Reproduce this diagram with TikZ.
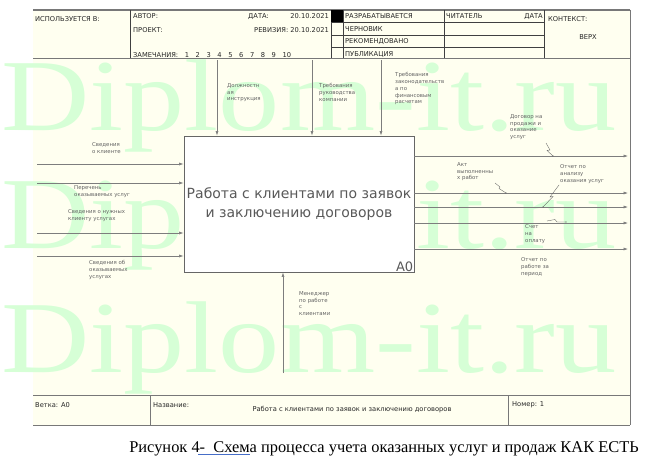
\documentclass[tikz,border=0pt]{standalone}
\usepackage{fontspec}
\setmainfont{Liberation Serif}
\newfontfamily\diagfont{DejaVu Sans}
\usetikzlibrary{positioning,arrows.meta,calc}

\definecolor{paper}{RGB}{255,255,240}
\definecolor{wmark}{RGB}{214,255,214}
\definecolor{frameline}{RGB}{120,120,120}
\definecolor{flowline}{RGB}{125,125,125}
\definecolor{labeltext}{RGB}{100,100,100}
\definecolor{spellblue}{RGB}{70,110,200}

\newcommand\hdrfont{\diagfont\fontsize{6.7}{7.5}\selectfont}
\newcommand\lblfont{\diagfont\fontsize{5.4}{6.9}\selectfont}
\newcommand\notegap{\hspace{6.6pt}}

\begin{document}
\begin{tikzpicture}[x=1pt, y=-1pt,
    hdr/.style = {font=\hdrfont, inner sep=0pt, text=black!85},
    lbl/.style = {font=\lblfont, text=labeltext, align=left, inner sep=0pt, anchor=north west},
    flow/.style = {draw=flowline, line width=0.6pt, -{Latex[length=4.5pt,width=3pt]}},
    squig/.style = {draw=labeltext, line width=0.35pt},
    funcbox/.style = {draw=black!60, fill=white, line width=0.8pt,
      minimum width=230pt, minimum height=136pt, align=center, inner sep=0pt,
      font=\diagfont\fontsize{14}{19.5}\selectfont, text=black!65}]
  \useasboundingbox (0,0) rectangle (663,460);
  \fill[white] (0,0) rectangle (663,460);

  % form background
  \fill[paper] (33,10) rectangle (630,425);

  % watermark
  \foreach \wy in {130,248,372}
    \node[anchor=base west, inner sep=0pt, text=wmark, xscale=1.2,
      font=\fontsize{102}{102}\selectfont] at (1,\wy) {Diplom-it.ru};

  % header
  \draw[frameline, line width=1.2pt] (33,10) -- (630,10);
  \draw[frameline, line width=0.8pt] (33,58) -- (630,58);
  \foreach \hx in {130,331,343,444,544}
    \draw[black!75, line width=0.5pt] (\hx,10) -- (\hx,58);
  \foreach \hy in {22.5,35,47.5}
    \draw[black!75, line width=0.5pt] (331,\hy) -- (544,\hy);
  \fill[black] (331,10) rectangle (343,22.5);

  \node[hdr, anchor=west] (usedin) at (35,19) {ИСПОЛЬЗУЕТСЯ В:};
  \node[hdr, anchor=west] (author) at (133,16.5) {АВТОР:};
  \node[hdr, anchor=west] (project) at (133,30.5) {ПРОЕКТ:};
  \node[hdr, anchor=west] (date) at (248,16.5) {ДАТА:};
  \node[hdr, anchor=east] (dateval) at (329,16.5) {20.10.2021};
  \node[hdr, anchor=east] (rev) at (329,30.5) {РЕВИЗИЯ: 20.10.2021};
  \node[hdr, anchor=base west] (notes) at (133,57.5)
    {ЗАМЕЧАНИЯ:\notegap 1\notegap 2\notegap 3\notegap 4\notegap 5\notegap 6\notegap 7\notegap 8\notegap 9\notegap 10};
  \node[hdr, anchor=west] (working) at (345,16.5) {РАЗРАБАТЫВАЕТСЯ};
  \node[hdr, anchor=west] (draft) at (345,29) {ЧЕРНОВИК};
  \node[hdr, anchor=west] (recom) at (345,41.5) {РЕКОМЕНДОВАНО};
  \node[hdr, anchor=west] (publ) at (345,54.5) {ПУБЛИКАЦИЯ};
  \node[hdr, anchor=west] (reader) at (446,16.5) {ЧИТАТЕЛЬ};
  \node[hdr, anchor=east] (rdate) at (543,16.5) {ДАТА};
  \node[hdr, anchor=west] (context) at (548,19) {КОНТЕКСТ:};
  \node[hdr] (top) at (588,37) {ВЕРХ};

  % right border and footer
  \draw[frameline, line width=0.8pt] (630,10) -- (630,425);
  \draw[frameline, line width=0.8pt] (33,395) -- (630,395);
  \draw[frameline, line width=1pt] (33,425) -- (630,425);
  \foreach \fx in {150,508}
    \draw[frameline, line width=0.6pt] (\fx,395) -- (\fx,425);
  \node[hdr, anchor=west] (node) at (35,405) {Ветка: А0};
  \node[hdr, anchor=west] (title) at (153,405) {Название:};
  \node[hdr] (titletext) at (352,410) {Работа с клиентами по заявок и заключению договоров};
  \node[hdr, anchor=west] (number) at (512,405) {Номер: 1};

  % activity
  \node[funcbox] (A0) at (299,204) {Работа с клиентами по заявок\\и заключению договоров};
  \node[anchor=south east, inner sep=1pt, font=\diagfont\fontsize{13}{14}\selectfont,
    text=black!65] (A0num) at (A0.south east) {A0};

  % controls
  \coordinate (c1) at (217,60);
  \coordinate (c2) at (312,60);
  \coordinate (c3) at (381,60);
  \foreach \c in {c1,c2,c3}
    \draw[flow] (\c) -- (\c |- A0.north);
  \node[lbl] (c1lbl) at (227,83) {Должностн\\ая\\инструкция};
  \node[lbl] (c2lbl) at (319,83) {Требования\\руководства\\компании};
  \node[lbl] (c3lbl) at (395,72) {Требования\\законодательств\\а по\\финансовым\\расчетам};

  % inputs
  \coordinate (i1) at (37,164);
  \coordinate (i2) at (37,183);
  \coordinate (i3) at (37,233);
  \coordinate (i4) at (37,256);
  \foreach \i in {i1,i2,i3,i4}
    \draw[flow] (\i) -- (\i -| A0.west);
  \node[lbl] (i1lbl) at (92,142) {Сведения\\о клиенте};
  \node[lbl] (i2lbl) at (74,185) {Перечень\\оказываемых услуг};
  \node[lbl] (i3lbl) at (68,209) {Сведения о нужных\\клиенту услугах};
  \node[lbl] (i4lbl) at (89,260) {Сведения об\\оказываемых\\услугах};

  % outputs
  \coordinate (o1) at (628,156);
  \coordinate (o2) at (628,193);
  \coordinate (o3) at (628,207);
  \coordinate (o4) at (628,223);
  \coordinate (o5) at (628,249);
  \foreach \o in {o1,o2,o3,o4,o5}
    \draw[flow] (\o -| A0.east) -- (\o);
  \node[lbl] (o1lbl) at (510,114) {Договор на\\продажи и\\оказание\\услуг};
  \node[lbl] (o2lbl) at (457,162) {Акт\\выполненны\\х работ};
  \node[lbl] (o3lbl) at (560,164) {Отчет по\\анализу\\оказания услуг};
  \node[lbl] (o4lbl) at (525,224) {Счет\\на\\оплату};
  \node[lbl] (o5lbl) at (521,257) {Отчет по\\работе за\\период};

  % label squiggles
  \draw[squig] (546,143) -- (550,150) -- (547,150.5) -- (553,156);
  \draw[squig] (495,183) -- (500,187) -- (499,188.5) -- (506,193);
  \draw[squig] (559,185) -- (550,197) -- (553,196.5) -- (543,207);
  \draw[squig] (547,221) -- (555,219.5) -- (557,222) -- (566,222);
  \fill[labeltext] (553,156) circle (0.6) (506,193) circle (0.6)
    (543,207) circle (0.6) (566,222) circle (0.6);

  % mechanism
  \coordinate (m1) at (283,373);
  \draw[flow] (m1) -- (m1 |- A0.south);
  \node[lbl] (m1lbl) at (299,291) {Менеджер\\по работе\\с\\клиентами};

  % caption
  \node[font=\fontsize{16.4}{19}\selectfont, inner sep=0pt, anchor=base] (caption) at (384,452)
    {Рисунок 4- \ Схема процесса учета оказанных услуг и продаж КАК ЕСТЬ};
  \draw[spellblue, line width=0.5pt] ($(caption.base west)+(69,2.5)$) -- ++(52,0);
\end{tikzpicture}
\end{document}
